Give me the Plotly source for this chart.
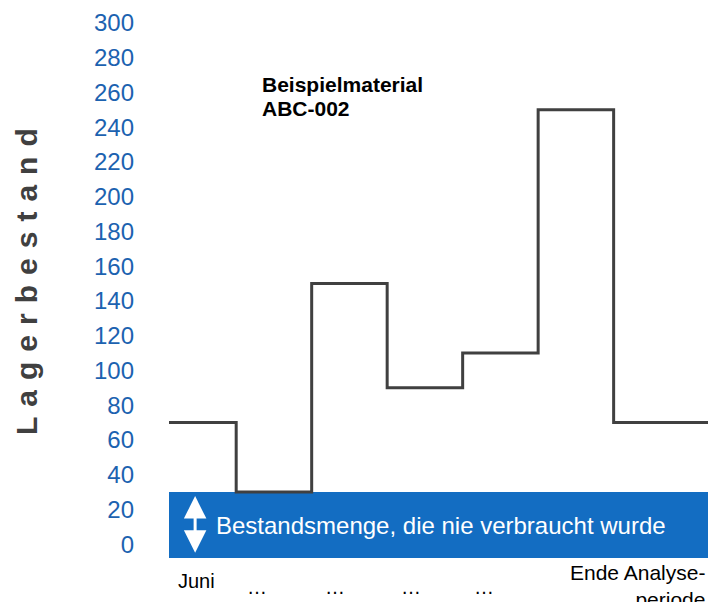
import plotly.graph_objects as go

# Data
period_edges = [0, 1, 2, 3, 4, 5, 6, 8]
stock_levels = [70, 30, 150, 90, 110, 250, 70, 70]
never_used = 30
y_ticks = list(range(0, 301, 20))
x_label_pos = [0.47, 1.28, 2.31, 3.31, 4.28]
x_label_text = ["Juni", "…", "…", "…", "…"]
end_label = "Ende Analyse-<br>periode"
title_lines = ["Beispielmaterial", "ABC-002"]
box_text = "Bestandsmenge, die nie verbraucht wurde"
y_title = "\u2004".join("Lagerbestand")

FONT = "Liberation Sans, Arial, sans-serif"
BLUE_BOX = "#136DC2"
BLUE_TXT = "#1C62B0"
LINE = "#404040"

W, H = 708, 602
L, R, T, B = 169, 0, 23, 44
PW, PH = W - L - R, H - T - B

def px_x(p):
    return (p - L) / PW

def px_y(p):
    return (H - B - p) / PH

fig = go.Figure()

fig.add_trace(go.Scatter(
    x=period_edges, y=stock_levels, mode="lines", line_shape="hv",
    line=dict(color=LINE, width=3), hoverinfo="skip", showlegend=False,
))

# blue box: stock never used
fig.add_shape(type="rect", xref="paper", yref="y", x0=0, x1=1, y0=-8, y1=never_used,
              fillcolor=BLUE_BOX, line=dict(width=0), layer="below")

# double arrow
fig.add_annotation(x=0.456, y=-5, ax=0.456, ay=28.5, xref="x", yref="y", axref="x", ayref="y",
                   showarrow=True, arrowhead=2, arrowside="end+start", arrowsize=1.5,
                   arrowwidth=3, arrowcolor="white", text="")
fig.add_annotation(x=0.706, y=11, xref="x", yref="y", text=box_text, showarrow=False,
                   xanchor="left", yanchor="middle",
                   font=dict(family=FONT, size=24, color="white"))

# title (two lines)
for i, ln in enumerate(title_lines):
    fig.add_annotation(x=px_x(260), y=px_y(84 + 24 * i), xref="paper", yref="paper",
                       text="<b>" + ln + "</b>", showarrow=False, xanchor="left", yanchor="middle",
                       font=dict(family=FONT, size=21, color="black"))

# y axis title
fig.add_annotation(x=px_x(26), y=px_y(282), xref="paper", yref="paper", text="<b>" + y_title + "</b>",
                   showarrow=False, textangle=-90, xanchor="center", yanchor="middle",
                   font=dict(family=FONT, size=30, color=LINE))

# bottom labels
for xp, tx in zip(x_label_pos, x_label_text):
    fig.add_annotation(x=xp, y=0, xref="x", yref="paper", text=tx, showarrow=False,
                       xanchor="center", yanchor="top", yshift=-10 if tx == "Juni" else -16,
                       font=dict(family=FONT, size=20, color="black"))
fig.add_annotation(x=1, y=0, xref="paper", yref="paper", text=end_label, showarrow=False,
                   xanchor="right", yanchor="top", align="right", yshift=-1, xshift=-1,
                   font=dict(family=FONT, size=21, color="black"))

fig.update_layout(
    width=W, height=H,
    margin=dict(l=L, r=R, t=T, b=B),
    paper_bgcolor="white", plot_bgcolor="white",
    xaxis=dict(range=[0.11, 7.25], showgrid=False, zeroline=False, showticklabels=False,
               showline=False, fixedrange=True),
    yaxis=dict(range=[-8, 300], tickvals=y_ticks, showgrid=False, zeroline=False,
               showline=False, ticks="", ticklabelstandoff=34,
               tickfont=dict(family=FONT, size=24, color=BLUE_TXT), fixedrange=True),
)

fig.write_html("out.html", config={"displayModeBar": False},
               post_script="document.body.style.margin='0';document.body.style.overflow='hidden';")
